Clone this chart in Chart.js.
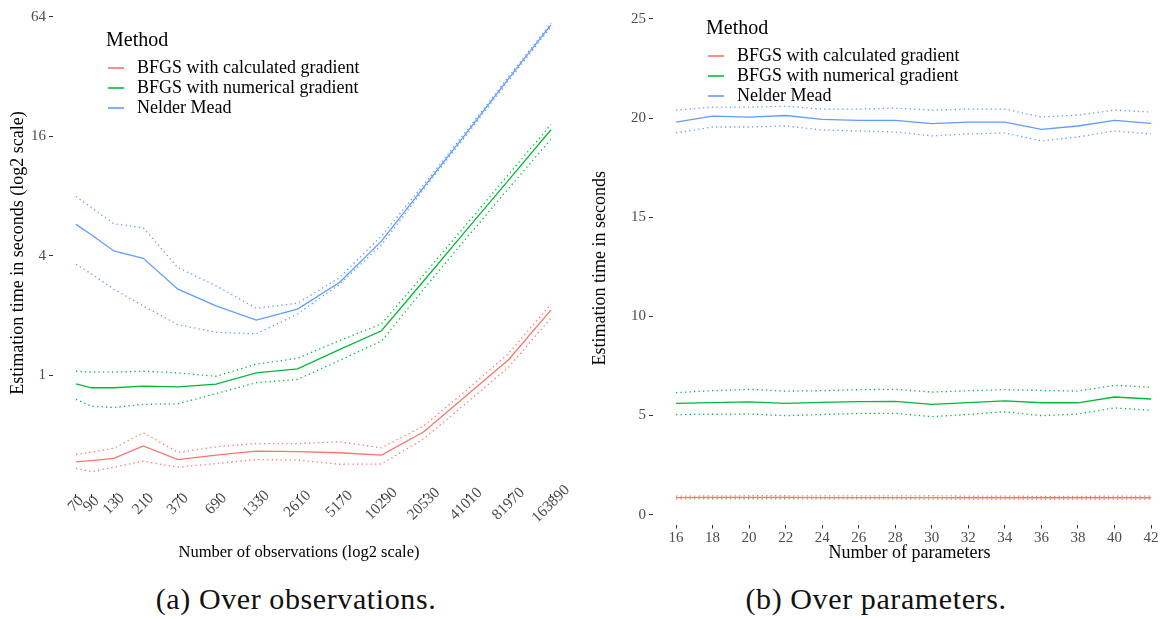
<!DOCTYPE html>
<html>
<head>
<meta charset="utf-8">
<script src="https://cdn.jsdelivr.net/npm/chart.js@4.4.0/dist/chart.umd.min.js"></script>
<style>
  body { margin: 0; background: #fff; width: 1166px; height: 619px; position: relative; overflow: hidden; font-family: "Liberation Serif", serif; }
  .panel { position: absolute; top: 0; width: 583px; height: 575px; }
  .cap { position: absolute; top: 582px; font-size: 30px; letter-spacing: 0.6px; color: #111; white-space: nowrap; transform: translateX(-50%); }
  .legend { position: absolute; color: #000; }
  .legend .ttl { font-size: 20px; line-height: 20px; margin-bottom: 8px; }
  .legend .row { font-size: 18px; line-height: 20px; height: 20px; white-space: nowrap; position: relative; padding-left: 31px; }
  .legend .sw { position: absolute; left: 2px; top: 10px; width: 16px; height: 1.5px; opacity: .8; }
</style>
</head>
<body>
<div class="panel" style="left:0"><canvas id="left" width="583" height="575"></canvas></div>
<div class="panel" style="left:583px"><canvas id="right" width="583" height="575"></canvas></div>
<div class="legend" id="legL" style="left:106px;top:29px"></div>
<div class="legend" id="legR" style="left:706px;top:17px"></div>
<div class="cap" style="left:296px">(a) Over observations.</div>
<div class="cap" style="left:876px">(b) Over parameters.</div>

<script>
// methods
const methods = ['BFGS with calculated gradient', 'BFGS with numerical gradient', 'Nelder Mead'];
const colors = ['#F8766D', '#00BA38', '#619CFF'];

// (a) over observations, log2 scales
const observations = [70, 90, 130, 210, 370, 690, 1330, 2610, 5170, 10290, 20530, 41010, 81970, 163890];
const obsLabels = ['70', '90', '130', '210', '370', '690', '1330', '2610', '5170', '10290', '20530', '41010', '81970', '163890'];
const yTicksLeft = [1, 4, 16, 64];

const calcObs      = [0.367, 0.372, 0.382, 0.442, 0.377, 0.397, 0.416, 0.413, 0.408, 0.397, 0.52, 0.79, 1.2, 2.14];
const calcObsHigh  = [0.40, 0.41, 0.43, 0.515, 0.41, 0.437, 0.454, 0.454, 0.463, 0.432, 0.557, 0.84, 1.29, 2.29];
const calcObsLow   = [0.34, 0.328, 0.345, 0.37, 0.345, 0.36, 0.377, 0.375, 0.357, 0.358, 0.48, 0.725, 1.1, 1.95];
const numObs       = [0.908, 0.867, 0.867, 0.884, 0.877, 0.905, 1.03, 1.08, 1.35, 1.68, 3.0, 5.38, 9.64, 17.3];
const numObsHigh   = [1.05, 1.04, 1.04, 1.05, 1.03, 0.99, 1.14, 1.22, 1.50, 1.82, 3.22, 5.75, 10.3, 18.4];
const numObsLow    = [0.758, 0.70, 0.69, 0.715, 0.72, 0.81, 0.92, 0.955, 1.19, 1.49, 2.73, 4.9, 8.75, 15.5];
const nmObs        = [5.77, 5.12, 4.24, 3.89, 2.72, 2.24, 1.90, 2.16, 2.94, 4.75, 8.9, 16.6, 31.3, 58.4];
const nmObsHigh    = [8.0, 7.0, 5.81, 5.55, 3.49, 2.83, 2.18, 2.31, 3.11, 5.05, 9.15, 17.0, 32.0, 59.6];
const nmObsLow     = [3.63, 3.25, 2.72, 2.24, 1.80, 1.65, 1.62, 2.04, 2.88, 4.55, 8.7, 16.2, 30.6, 57.2];

// (b) over parameters
const params = [16, 18, 20, 22, 24, 26, 28, 30, 32, 34, 36, 38, 40, 42];
const yTicksRight = [0, 5, 10, 15, 20, 25];

const calcPar      = [0.86, 0.87, 0.87, 0.87, 0.86, 0.86, 0.86, 0.86, 0.85, 0.85, 0.85, 0.85, 0.85, 0.85];
const calcParHigh  = [0.93, 0.94, 0.95, 0.95, 0.94, 0.94, 0.94, 0.95, 0.93, 0.93, 0.92, 0.92, 0.93, 0.93];
const calcParLow   = [0.79, 0.80, 0.80, 0.80, 0.79, 0.79, 0.79, 0.78, 0.78, 0.78, 0.78, 0.78, 0.78, 0.78];
const numPar       = [5.61, 5.65, 5.69, 5.61, 5.66, 5.70, 5.71, 5.56, 5.65, 5.74, 5.64, 5.64, 5.93, 5.83];
const numParHigh   = [6.15, 6.25, 6.32, 6.23, 6.25, 6.30, 6.32, 6.18, 6.25, 6.30, 6.26, 6.23, 6.52, 6.42];
const numParLow    = [5.04, 5.06, 5.07, 4.99, 5.05, 5.10, 5.11, 4.94, 5.05, 5.19, 4.99, 5.07, 5.38, 5.26];
const nmPar        = [19.80, 20.10, 20.05, 20.13, 19.93, 19.88, 19.88, 19.72, 19.80, 19.80, 19.43, 19.60, 19.88, 19.73];
const nmParHigh    = [20.40, 20.55, 20.55, 20.60, 20.45, 20.45, 20.50, 20.40, 20.45, 20.45, 20.05, 20.15, 20.40, 20.30];
const nmParLow     = [19.25, 19.55, 19.55, 19.60, 19.40, 19.35, 19.30, 19.10, 19.20, 19.25, 18.85, 19.05, 19.35, 19.20];

const serif = 'Liberation Serif';
const tickGrey = '#4d4d4d';

function lineSets(xs, groups) {
  const out = [];
  groups.forEach((g, m) => {
    [[g[0], false], [g[1], true], [g[2], true]].forEach(([vals, dotted]) => {
      out.push({
        label: methods[m],
        data: xs.map((x, i) => ({ x: x, y: vals[i] })),
        borderColor: colors[m],
        borderWidth: 1.3,
        borderDash: dotted ? [1.3, 3.2] : [],
        pointRadius: 0,
        tension: 0,
        fill: false
      });
    });
  });
  return out;
}

function tickOpts(extra) {
  return Object.assign({ color: tickGrey, font: { family: serif, size: 15 } }, extra);
}
const tickGrid = { drawOnChartArea: false, drawTicks: true, tickLength: 4, color: '#333' };

new Chart(document.getElementById('left'), {
  type: 'line',
  data: {
    datasets: lineSets(observations, [
      [calcObs, calcObsHigh, calcObsLow],
      [numObs, numObsHigh, numObsLow],
      [nmObs, nmObsHigh, nmObsLow]
    ])
  },
  options: {
    responsive: false,
    animation: false,
    devicePixelRatio: 1,
    layout: { padding: { top: 2, right: 8, left: 0, bottom: 0 } },
    plugins: { legend: { display: false }, tooltip: { enabled: false } },
    scales: {
      x: {
        type: 'logarithmic', min: 48.1, max: 242600,
        afterBuildTicks: s => { s.ticks = observations.map(v => ({ value: v })); },
        afterFit: s => { s.height = 81; },
        ticks: { display: false },
        grid: tickGrid, border: { display: false }
      },
      y: {
        type: 'logarithmic', min: 0.2528, max: 67.8,
        afterBuildTicks: s => { s.ticks = yTicksLeft.map(v => ({ value: v })); },
        afterFit: s => { s.width = 53; },
        ticks: tickOpts({ padding: 3, callback: v => String(v) }),
        grid: tickGrid, border: { display: false },
        title: { display: true, text: 'Estimation time in seconds (log2 scale)', color: '#000', font: { family: serif, size: 18 }, padding: { top: 7 } }
      }
    }
  },
  plugins: [{
    id: 'obsLabels',
    afterDraw(chart) {
      const sx = chart.scales.x, ctx = chart.ctx;
      ctx.save();
      ctx.font = '15.5px "' + serif + '"';
      ctx.fillStyle = tickGrey;
      ctx.textAlign = 'center';
      ctx.textBaseline = 'middle';
      obsLabels.forEach((lab, i) => {
        ctx.save();
        ctx.translate(sx.getPixelForValue(observations[i]), chart.chartArea.bottom + 10);
        ctx.rotate(-Math.PI / 4);
        ctx.fillText(lab, 0, 0);
        ctx.restore();
      });
      // axis title
      ctx.fillStyle = '#000';
      ctx.font = '16.5px "' + serif + '"';
      ctx.fillText('Number of observations (log2 scale)', 299, 553);
      ctx.restore();
    }
  }]
});

new Chart(document.getElementById('right'), {
  type: 'line',
  data: {
    datasets: lineSets(params, [
      [calcPar, calcParHigh, calcParLow],
      [numPar, numParHigh, numParLow],
      [nmPar, nmParHigh, nmParLow]
    ])
  },
  options: {
    responsive: false,
    animation: false,
    devicePixelRatio: 1,
    layout: { padding: { top: 5, right: 0, left: 0, bottom: 0 } },
    plugins: { legend: { display: false }, tooltip: { enabled: false } },
    scales: {
      x: {
        type: 'linear', min: 14.74, max: 42.82,
        afterBuildTicks: s => { s.ticks = params.map(v => ({ value: v })); },
        afterFit: s => { s.height = 50.5; },
        ticks: tickOpts({ padding: 1, maxRotation: 0, autoSkip: false }),
        grid: tickGrid, border: { display: false },
        title: { display: true, text: 'Number of parameters', color: '#000', font: { family: serif, size: 18 }, padding: { bottom: 11 } }
      },
      y: {
        type: 'linear', min: -0.5, max: 25.35,
        afterBuildTicks: s => { s.ticks = yTicksRight.map(v => ({ value: v })); },
        afterFit: s => { s.width = 70; },
        ticks: tickOpts({ padding: 3 }),
        grid: tickGrid, border: { display: false },
        title: { display: true, text: 'Estimation time in seconds', color: '#000', font: { family: serif, size: 18 }, padding: { top: 6 } }
      }
    }
  }
});

// legends
function buildLegend(id) {
  const el = document.getElementById(id);
  let html = '<div class="ttl">Method</div>';
  methods.forEach((m, i) => {
    html += '<div class="row"><span class="sw" style="background:' + colors[i] + '"></span>' + m + '</div>';
  });
  el.innerHTML = html;
}
buildLegend('legL');
buildLegend('legR');
</script>
</body>
</html>
